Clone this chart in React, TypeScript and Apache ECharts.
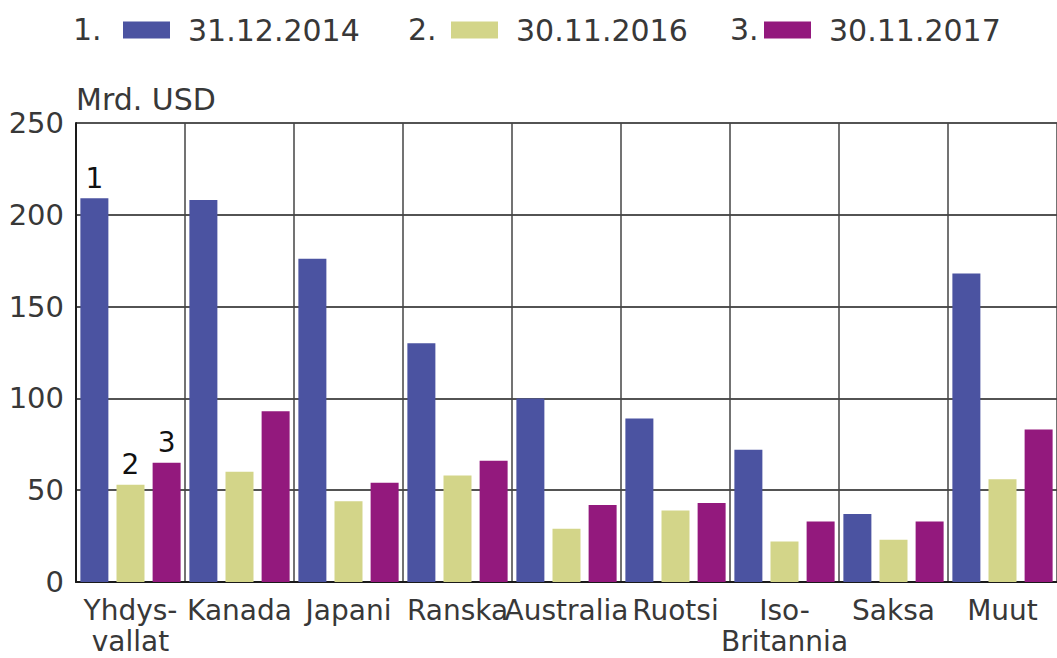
import React, { useEffect, useRef } from "react";
import * as echarts from "echarts";

const categories = [
  "Yhdys-\nvallat",
  "Kanada",
  "Japani",
  "Ranska",
  "Australia",
  "Ruotsi",
  "Iso-\nBritannia",
  "Saksa",
  "Muut",
];
const seriesNames = ["31.12.2014", "30.11.2016", "30.11.2017"];
const values2014 = [209, 208, 176, 130, 100, 89, 72, 37, 168];
const values2016 = [53, 60, 44, 58, 29, 39, 22, 23, 56];
const values2017 = [65, 93, 54, 66, 42, 43, 33, 33, 83];
const colors = ["#4b53a1", "#d3d589", "#93197d"];
const yTicks = { min: 0, max: 250, interval: 50 };
const markerLabels = ["1", "2", "3"];

const FONT = "DejaVu Sans";
const TEXT = "#383838";

export default function App() {
  const ref = useRef<HTMLDivElement>(null);
  useEffect(() => {
    if (!ref.current) return;
    const chart = echarts.init(ref.current, null, { renderer: "svg" });
    const allValues = [values2014, values2016, values2017];
    const legendLefts = [118, 446, 759];
    const prefixLefts = [73, 408, 730];
    chart.setOption({
      animation: false,
      textStyle: { fontFamily: FONT, color: TEXT },
      grid: { left: 76, right: 0, top: 123, bottom: 76, containLabel: false },
      legend: seriesNames.map((n, i) => ({
        data: [n],
        left: legendLefts[i],
        top: 10,
        icon: "rect",
        itemWidth: 47,
        itemHeight: 17,
        selectedMode: false,
        textStyle: {
          fontFamily: FONT,
          fontSize: 30,
          color: TEXT,
          lineHeight: 30,
          padding: [0, 0, 0, 13],
        },
      })),
      graphic: markerLabels.map((m, i) => ({
        type: "text",
        left: prefixLefts[i],
        top: 14,
        style: {
          text: m + ".",
          fontFamily: FONT,
          fontSize: 30,
          lineHeight: 30,
          fill: TEXT,
        },
      })),
      xAxis: {
        type: "category",
        data: categories,
        axisTick: { show: false },
        axisLine: { show: true, lineStyle: { color: "#1a1a1a", width: 2 } },
        splitLine: { show: true, lineStyle: { color: "#444", width: 1.5 } },
        axisLabel: {
          interval: 0,
          fontFamily: FONT,
          fontSize: 28,
          lineHeight: 31,
          color: TEXT,
          margin: 13,
        },
      },
      yAxis: {
        type: "value",
        min: yTicks.min,
        max: yTicks.max,
        interval: yTicks.interval,
        name: "Mrd. USD",
        nameLocation: "end",
        nameGap: 9,
        nameTextStyle: {
          fontFamily: FONT,
          fontSize: 30,
          color: TEXT,
          align: "left",
          verticalAlign: "bottom",
        },
        axisTick: { show: false },
        axisLine: { show: true, lineStyle: { color: "#1a1a1a", width: 2 } },
        splitLine: { show: true, lineStyle: { color: "#1a1a1a", width: 1.5 } },
        axisLabel: {
          fontFamily: FONT,
          fontSize: 29,
          color: TEXT,
          margin: 12,
        },
      },
      series: seriesNames.map((n, i) => ({
        name: n,
        type: "bar",
        barWidth: 28,
        barGap: "29%",
        itemStyle: { color: colors[i] },
        data: allValues[i].map((v, j) =>
          j === 0
            ? {
                value: v,
                label: {
                  show: true,
                  position: "top",
                  formatter: markerLabels[i],
                  fontFamily: FONT,
                  fontSize: 28,
                  color: "#111",
                  distance: 6,
                },
              }
            : v
        ),
      })),
    });
    return () => chart.dispose();
  }, []);
  return (
    <div
      ref={ref}
      style={{ position: "absolute", left: 0, top: 0, width: 1057, height: 658 }}
    />
  );
}
